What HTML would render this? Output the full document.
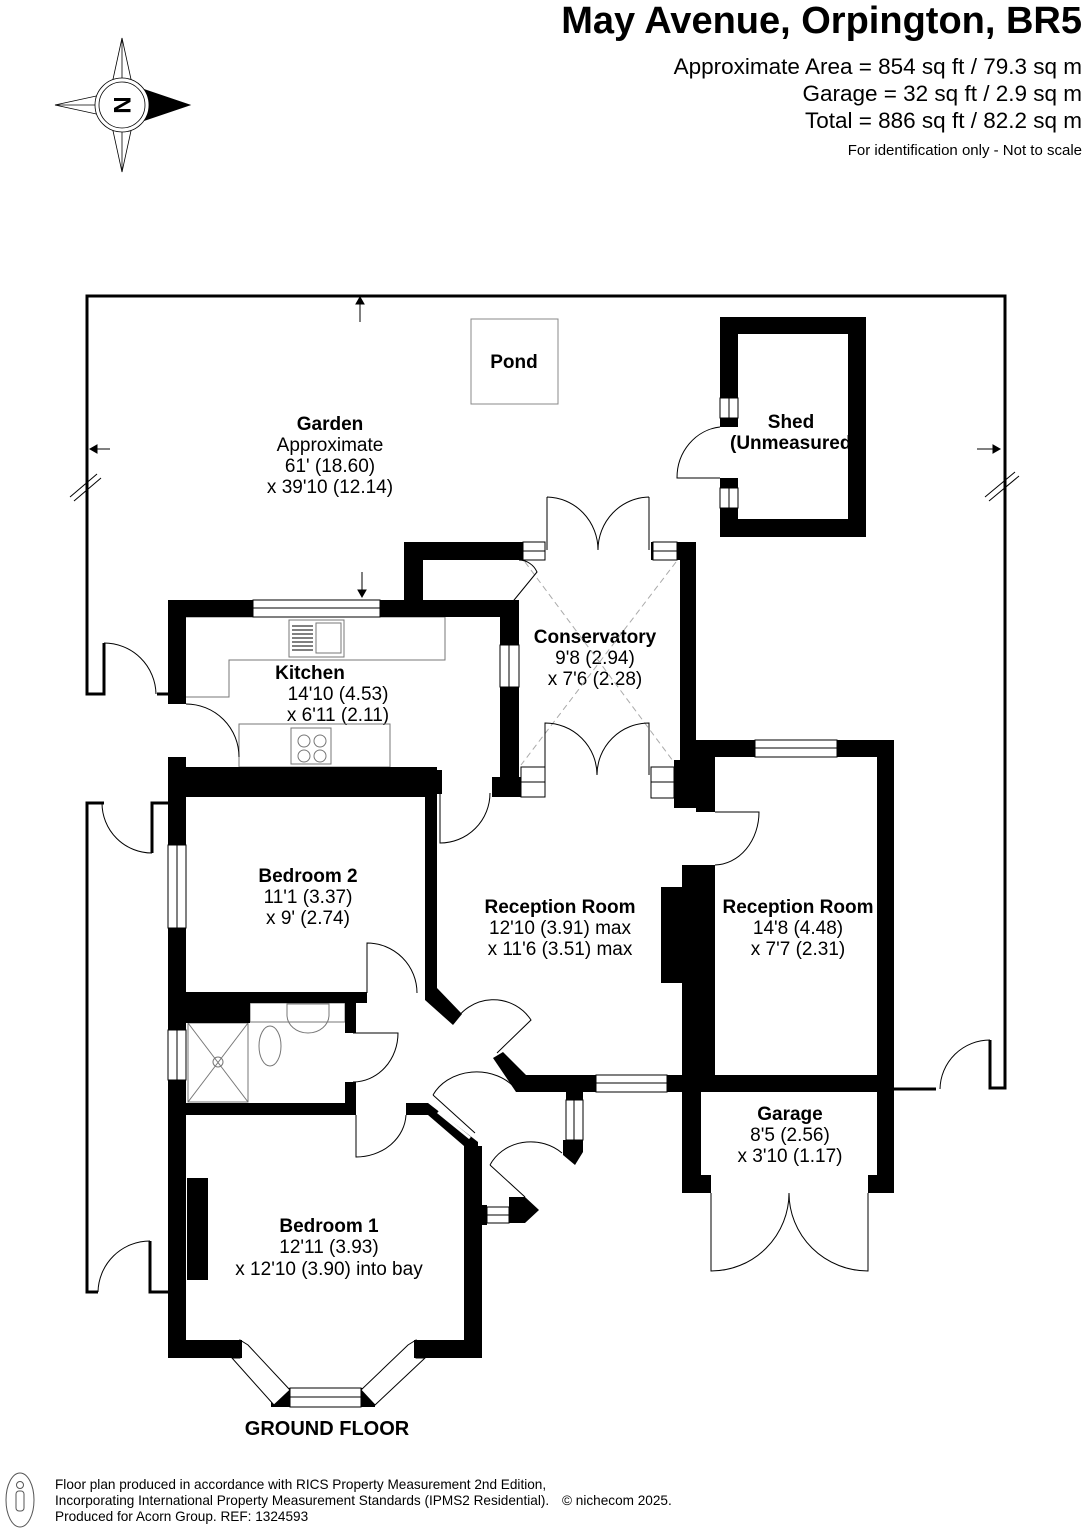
<!DOCTYPE html>
<html><head><meta charset="utf-8"><style>
html,body{margin:0;padding:0;background:#fff}
svg{display:block}
text{font-family:"Liberation Sans",Arial,sans-serif;fill:#000}
.b{font-weight:bold;font-size:19px}
.n{font-size:19px}
.w{fill:#fff;stroke:#000;stroke-width:1}
.l{fill:none;stroke:#000;stroke-width:1}
.g{fill:none;stroke:#777;stroke-width:1}
</style></head><body>
<svg width="1084" height="1528" viewBox="0 0 1084 1528" xmlns="http://www.w3.org/2000/svg">
<rect width="1084" height="1528" fill="#fff"/>
<!-- header -->
<text x="1082" y="33" text-anchor="end" style="font-weight:bold;font-size:38px">May Avenue, Orpington, BR5</text>
<text x="1082" y="74" text-anchor="end" style="font-size:22.5px">Approximate Area = 854 sq ft / 79.3 sq m</text>
<text x="1082" y="101" text-anchor="end" style="font-size:22.5px">Garage = 32 sq ft / 2.9 sq m</text>
<text x="1082" y="128" text-anchor="end" style="font-size:22.5px">Total = 886 sq ft / 82.2 sq m</text>
<text x="1082" y="155" text-anchor="end" style="font-size:15px">For identification only - Not to scale</text>
<!-- compass -->
<g stroke="#000" stroke-width="0.8" fill="#fff">
<polygon points="122,38 134,93 122,105 110,93"/>
<polygon points="122,172 134,117 122,105 110,117"/>
<polygon points="55,105 110,93 122,105 110,117"/>
<line x1="122" y1="38" x2="122" y2="172"/><line x1="55" y1="105" x2="122" y2="105"/>
<polygon points="190,105 134,86 134,124" fill="#000"/>
<circle cx="122" cy="105" r="27"/><circle cx="122" cy="105" r="23"/>
</g>
<text x="122" y="105" transform="rotate(90 122 105)" text-anchor="middle" dy="8" style="font-weight:bold;font-size:24px">N</text>

<!-- garden boundary -->
<g fill="none" stroke="#000" stroke-width="3">
<polyline points="104,643 104,694 87,694 87,296 1005,296 1005,1088 990,1088 990,1040"/>
<polyline points="104,803 87,803 87,1292 98,1292"/>
<polyline points="152,853 152,803 168,803"/>
<polyline points="157,694 168,694"/>
<polyline points="150,1241 150,1292 168,1292"/>
<line x1="894" y1="1089" x2="936" y2="1089"/>
</g>
<g class="l">
<path d="M104,643 A52,52 0 0 1 156,694"/>
<path d="M152,853 A50,50 0 0 1 102,803"/>
<path d="M150,1241 A52,52 0 0 0 98,1292"/>
<path d="M990,1040 A50,50 0 0 0 940,1089"/>
</g>
<!-- arrows and breaks -->
<g stroke="#000" stroke-width="1" fill="#000">
<line x1="360" y1="322" x2="360" y2="302"/><polygon points="356,304 364,304 360,297"/>
<line x1="362" y1="572" x2="362" y2="592"/><polygon points="358,590 366,590 362,597"/>
<line x1="110" y1="449" x2="95" y2="449"/><polygon points="97,445 97,453 90,449"/>
<line x1="977" y1="449" x2="995" y2="449"/><polygon points="993,445 993,453 1000,449"/>
<line x1="70" y1="497" x2="97" y2="474"/><line x1="74" y1="501" x2="101" y2="478"/>
<line x1="985" y1="497" x2="1015" y2="472"/><line x1="989" y1="501" x2="1019" y2="476"/>
</g>
<!-- pond -->
<rect x="471" y="319" width="87" height="85" fill="#fff" stroke="#888" stroke-width="1"/>

<!-- labels (under walls) -->
<g text-anchor="middle">
<text class="b" x="514" y="368">Pond</text>
<text class="b" x="330" y="430">Garden</text>
<text class="n" x="330" y="451">Approximate</text>
<text class="n" x="330" y="472">61' (18.60)</text>
<text class="n" x="330" y="493">x 39'10 (12.14)</text>
<text class="b" x="791" y="428">Shed</text>
<text class="b" x="730" y="449" text-anchor="start">(Unmeasured</text>
<text class="b" x="310" y="679">Kitchen</text>
<text class="n" x="338" y="700">14'10 (4.53)</text>
<text class="n" x="338" y="721">x 6'11 (2.11)</text>
<text class="b" x="595" y="643">Conservatory</text>
<text class="n" x="595" y="664">9'8 (2.94)</text>
<text class="n" x="595" y="685">x 7'6 (2.28)</text>
<text class="b" x="308" y="882">Bedroom 2</text>
<text class="n" x="308" y="903">11'1 (3.37)</text>
<text class="n" x="308" y="924">x 9' (2.74)</text>
<text class="b" x="560" y="913">Reception Room</text>
<text class="n" x="560" y="934">12'10 (3.91) max</text>
<text class="n" x="560" y="955">x 11'6 (3.51) max</text>
<text class="b" x="798" y="913">Reception Room</text>
<text class="n" x="798" y="934">14'8 (4.48)</text>
<text class="n" x="798" y="955">x 7'7 (2.31)</text>
<text class="b" x="790" y="1120">Garage</text>
<text class="n" x="790" y="1141">8'5 (2.56)</text>
<text class="n" x="790" y="1162">x 3'10 (1.17)</text>
<text class="b" x="329" y="1232">Bedroom 1</text>
<text class="n" x="329" y="1253">12'11 (3.93)</text>
<text class="n" x="329" y="1275">x 12'10 (3.90) into bay</text>
<text x="327" y="1435" style="font-weight:bold;font-size:20px">GROUND FLOOR</text>
</g>

<!-- shed -->
<g fill="#000">
<rect x="720" y="317" width="146" height="17"/>
<rect x="720" y="519" width="146" height="18"/>
<rect x="848" y="317" width="18" height="220"/>
<rect x="720" y="317" width="18" height="81"/>
<rect x="720" y="418" width="18" height="9"/>
<rect x="720" y="478" width="18" height="10"/>
<rect x="720" y="508" width="18" height="29"/>
</g>
<rect class="w" x="720" y="398" width="18" height="20"/><line x1="729" y1="398" x2="729" y2="418" stroke="#000"/>
<rect class="w" x="720" y="488" width="18" height="20"/><line x1="729" y1="488" x2="729" y2="508" stroke="#000"/>
<path class="l" d="M720,427 A48,51 0 0 0 677,478 L720,478"/>

<!-- kitchen fittings -->
<g class="g">
<polyline points="186,617 445,617 445,660 229,660 229,697 186,697"/>
<rect x="239" y="724" width="151" height="43"/>
<rect x="289" y="620" width="55" height="37"/><rect x="316" y="623" width="25" height="30"/>
<rect x="291" y="728" width="40" height="36"/>
<circle cx="304" cy="741" r="6"/><circle cx="320" cy="741" r="6"/><circle cx="304" cy="756" r="6"/><circle cx="320" cy="756" r="6"/>
</g>
<g stroke="#000" stroke-width="1">
<line x1="292" y1="626" x2="313" y2="626"/><line x1="292" y1="630" x2="313" y2="630"/><line x1="292" y1="634" x2="313" y2="634"/><line x1="292" y1="638" x2="313" y2="638"/><line x1="292" y1="642" x2="313" y2="642"/><line x1="292" y1="646" x2="313" y2="646"/><line x1="292" y1="650" x2="313" y2="650"/>
</g>

<!-- conservatory dashed X -->
<g stroke="#aaa" stroke-width="1" stroke-dasharray="6,4">
<line x1="525" y1="562" x2="676" y2="765"/><line x1="676" y1="562" x2="521" y2="765"/>
</g>

<!-- bathroom fittings -->
<g class="g">
<rect x="188" y="1023" width="60" height="79"/>
<line x1="188" y1="1023" x2="248" y2="1102"/><line x1="248" y1="1023" x2="188" y2="1102"/>
<circle cx="218" cy="1062" r="5"/>
<rect x="250" y="1003" width="95" height="19"/>
<path d="M287,1004 L329,1004 L329,1015 A21,18 0 0 1 287,1015 Z"/>
<ellipse cx="270" cy="1046" rx="11" ry="20"/>
</g>

<!-- walls -->
<g fill="#000">
<rect x="168" y="600" width="85" height="17"/>
<rect x="380" y="600" width="139" height="17"/>
<rect x="404" y="542" width="19" height="75"/>
<rect x="404" y="542" width="119" height="18"/>
<rect x="500" y="600" width="19" height="45"/>
<rect x="500" y="687" width="19" height="110"/>
<rect x="492" y="777" width="29" height="20"/>
<rect x="168" y="600" width="18" height="104"/>
<rect x="168" y="757" width="18" height="88"/>
<rect x="168" y="928" width="18" height="102"/>
<rect x="168" y="1080" width="18" height="278"/>
<rect x="168" y="767" width="269" height="30"/>
<rect x="437" y="770" width="5" height="24"/>
<rect x="425" y="797" width="12" height="196"/>
<polygon points="425,988 437,988 462,1014 453,1025 425,1000"/>
<rect x="186" y="992" width="181" height="11"/>
<rect x="186" y="1003" width="64" height="20"/>
<rect x="345" y="1003" width="11" height="30"/>
<rect x="345" y="1082" width="11" height="21"/>
<rect x="186" y="1103" width="170" height="12"/>
<rect x="406" y="1103" width="22" height="12"/>
<polygon points="428,1103 478,1142 478,1152 464,1152 464,1146 428,1115"/>
<rect x="464" y="1146" width="18" height="212"/>
<rect x="482" y="1205" width="5" height="20"/>
<rect x="187" y="1178" width="21" height="102"/>
<rect x="168" y="1340" width="72" height="18"/>
<rect x="416" y="1340" width="66" height="18"/>
<rect x="271" y="1388" width="19" height="19"/>
<rect x="361" y="1388" width="14" height="19"/>
<polygon points="493,1058 503,1052 526,1075 526,1092 516,1092"/>
<rect x="516" y="1075" width="80" height="17"/>
<rect x="667" y="1075" width="227" height="17"/>
<rect x="682" y="865" width="33" height="227"/>
<rect x="661" y="887" width="21" height="96"/>
<rect x="680" y="542" width="16" height="256"/>
<rect x="651" y="542" width="45" height="18"/>
<rect x="674" y="760" width="22" height="48"/>
<rect x="696" y="740" width="19" height="72"/>
<rect x="695" y="740" width="60" height="17"/>
<rect x="837" y="740" width="57" height="17"/>
<rect x="877" y="740" width="17" height="453"/>
<rect x="682" y="1092" width="19" height="101"/>
<rect x="701" y="1175" width="10" height="18"/>
<rect x="868" y="1175" width="9" height="18"/>
<rect x="566" y="1085" width="17" height="15"/>
<polygon points="563,1140 583,1140 583,1152 575,1165 563,1155"/>
<polygon points="509,1197 525,1197 539,1210 525,1223 509,1223"/>
</g>
<!-- windows -->
<g class="w">
<rect x="253" y="600" width="127" height="17"/><line x1="253" y1="608" x2="380" y2="608"/>
<rect x="523" y="542" width="22" height="18"/><line x1="523" y1="551" x2="545" y2="551"/>
<rect x="653" y="542" width="24" height="18"/><line x1="653" y1="551" x2="677" y2="551"/>
<rect x="500" y="645" width="19" height="42"/><line x1="509" y1="645" x2="509" y2="687"/>
<rect x="521" y="767" width="24" height="30"/><line x1="521" y1="782" x2="545" y2="782"/>
<rect x="651" y="767" width="23" height="31"/><line x1="651" y1="782" x2="674" y2="782"/>
<rect x="168" y="845" width="18" height="83"/><line x1="177" y1="845" x2="177" y2="928"/>
<rect x="168" y="1030" width="18" height="50"/><line x1="177" y1="1030" x2="177" y2="1080"/>
<rect x="596" y="1075" width="71" height="17"/><line x1="596" y1="1083" x2="667" y2="1083"/>
<rect x="755" y="740" width="82" height="17"/><line x1="755" y1="748" x2="837" y2="748"/>
<rect x="566" y="1100" width="17" height="40"/><line x1="574" y1="1100" x2="574" y2="1140"/>
<rect x="487" y="1207" width="22" height="16"/><line x1="487" y1="1215" x2="509" y2="1215"/>
<rect x="290" y="1388" width="71" height="19"/><line x1="290" y1="1397" x2="361" y2="1397"/>
<polygon points="240,1340 240,1358 232,1358 274,1405 290,1390 248,1345"/>
<polygon points="416,1340 416,1358 425,1358 375,1405 361,1390 408,1345"/>
</g>
<rect x="232" y="1340" width="10" height="18" fill="#000"/>
<rect x="414" y="1340" width="12" height="18" fill="#000"/>
<line x1="438" y1="1112" x2="470" y2="1138" stroke="#fff" stroke-width="3"/>

<!-- doors -->
<g class="l">
<path d="M186,704 A53,53 0 0 1 239,757"/>
<path d="M547,497 L547,550 M547,497 A52,53 0 0 1 598,550"/>
<path d="M649,497 L649,550 M649,497 A52,53 0 0 0 598,550"/>
<path d="M545,775 L545,723 A52,52 0 0 1 597,775"/>
<path d="M649,775 L649,723 A52,52 0 0 0 597,775"/>
<path d="M510,605 L537,572 A20,20 0 0 0 519,560"/>
<path d="M440,793 L440,843 A50,50 0 0 0 490,793"/>
<path d="M715,812 L759,812 A45,53 0 0 1 715,865"/>
<path d="M367,993 L367,943 A50,50 0 0 1 417,993"/>
<path d="M353,1033 L398,1033 A45,49 0 0 1 353,1082"/>
<path d="M356,1115 L356,1157 A50,44 0 0 0 406,1115"/>
<path d="M454,1023 A45,45 0 0 1 531,1020 L497,1053"/>
<path d="M433,1095 L475,1133 M433,1095 A48,40 0 0 1 515,1088"/>
<path d="M490,1165 L525,1197 M490,1165 A45,40 0 0 1 562,1153"/>
<path d="M711,1193 L711,1271 A78,78 0 0 0 789,1193"/>
<path d="M868,1193 L868,1271 A79,78 0 0 1 789,1193"/>
</g>

<!-- footer -->
<ellipse cx="20" cy="1500" rx="14" ry="27" fill="none" stroke="#555" stroke-width="1"/>
<circle cx="20" cy="1485" r="3.5" fill="none" stroke="#555"/>
<rect x="16" y="1491" width="8" height="20" rx="3" fill="none" stroke="#555"/>
<g style="font-size:13.6px" fill="#333">
<text x="55" y="1489">Floor plan produced in accordance with RICS Property Measurement 2nd Edition,</text>
<text x="55" y="1505">Incorporating International Property Measurement Standards (IPMS2 Residential).</text>
<text x="562" y="1505">© nichecom 2025.</text>
<text x="55" y="1521">Produced for Acorn Group.   REF: 1324593</text>
</g>
</svg>
</body></html>
